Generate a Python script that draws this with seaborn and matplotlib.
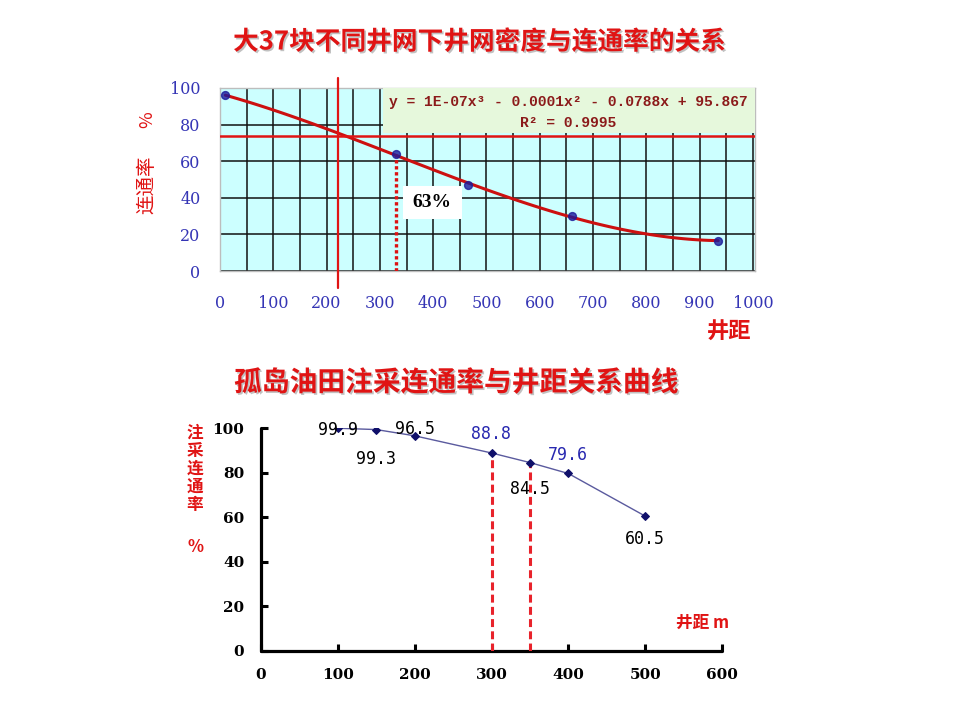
import numpy as np
import pandas as pd
import matplotlib
matplotlib.use('Agg')
import matplotlib.pyplot as plt
import matplotlib.patheffects as pe
from matplotlib.patches import Rectangle
from matplotlib.ticker import MultipleLocator
import seaborn as sns

sns.set_style('white')
plt.rcParams['font.family'] = ['Noto Sans CJK SC', 'DejaVu Sans']
plt.rcParams['axes.unicode_minus'] = False

# ---- upper chart: well spacing vs connectivity (block Da37)
top_x = [10, 330, 465, 660, 935]
top_y = [96, 64, 47, 30, 16.5]
cross_x = 222
cross_y = 74
eq_text = 'y = 1E-07x³ - 0.0001x² - 0.0788x + 95.867'
r2_text = 'R² = 0.9995'
mark_text = '63%'
title1 = '大37块不同井网下井网密度与连通率的关系'

# ---- lower chart: Gudao oilfield
spacing = [100, 150, 200, 300, 350, 400, 500]
rate = [99.9, 99.3, 96.5, 88.8, 84.5, 79.6, 60.5]
dash_at = [300, 350]
title2 = '孤岛油田注采连通率与井距关系曲线'

red = '#e01414'
shadow = [pe.SimplePatchShadow(offset=(1.2, -1.2), shadow_rgbFace='#999999', alpha=0.6), pe.Normal()]

fig = plt.figure(figsize=(9.6, 7.2), dpi=100)

# ================= upper chart
ax1 = fig.add_axes([220/960, 1-271/720, 535/960, 183/720])
ax1.set_facecolor('#ccffff')
sns.regplot(x=top_x, y=top_y, order=3, ci=None, ax=ax1,
            scatter_kws=dict(s=32, color='#1a1a9a', edgecolor='#1a1a9a', zorder=7),
            line_kws=dict(color='#cc1010', lw=2.2, zorder=5))
ax1.set_xlim(0, 1004)
ax1.set_ylim(0, 100)
ax1.xaxis.set_major_locator(MultipleLocator(100))
ax1.xaxis.set_minor_locator(MultipleLocator(50))
ax1.yaxis.set_major_locator(MultipleLocator(20))
ax1.set_axisbelow(True)
ax1.grid(True, which='both', axis='x', color='#111111', lw=1.1)
ax1.grid(True, which='major', axis='y', color='#111111', lw=1.1)
ax1.tick_params(which='both', length=0, labelcolor='#3535b5', labelsize=11.5)
ax1.tick_params(axis='x', pad=17)
ax1.tick_params(axis='y', pad=14)
for lab in ax1.get_xticklabels() + ax1.get_yticklabels():
    lab.set_fontfamily('DejaVu Serif')
for s in ax1.spines.values():
    s.set_color('#bdbdbd')
    s.set_linewidth(1)
ax1.set_xlabel('')
ax1.set_ylabel('')

# equation box
ax1.add_patch(Rectangle((306, 75.5), 698, 24.5, facecolor='#e6f8dc', edgecolor='none', zorder=3))
ax1.text(654, 92.5, eq_text, ha='center', va='center', family='Liberation Mono',
         weight='bold', size=10.5, color='#8b1a1a', zorder=4)
ax1.text(654, 81, r2_text, ha='center', va='center', family='Liberation Mono',
         weight='bold', size=10.5, color='#8b1a1a', zorder=4)

# cross lines
ax1.axvline(cross_x, ymin=-0.093, ymax=1.055, color=red, lw=1.6, clip_on=False, zorder=6)
ax1.axhline(cross_y, color=red, lw=1.8, zorder=6)

# dotted drop line and 63% label
ax1.vlines(top_x[1], 0, top_y[1], colors='#dd1111', linestyles=(0, (1, 0.8)), lw=2.4, zorder=6)
ax1.add_patch(Rectangle((344, 28.5), 110, 18, facecolor='white', edgecolor='none', zorder=6))
ax1.text(397, 37.3, mark_text, ha='center', va='center', family='Liberation Serif',
         weight='bold', size=14, color='black', zorder=7)

fig.text(147/960, 1-185/720, '连通率', rotation=90, color=red, size=14, ha='center', va='center')
fig.text(147/960, 1-120/720, '%', rotation=90, color=red, size=13, ha='center', va='center')
fig.text(729/960, 1-332/720, '井距', color=red, size=16, weight='bold', ha='center', va='center')
fig.text(480/960, 1-42/720, title1, color=red, size=18.5, weight='bold', ha='center', va='center',
         path_effects=shadow)

# ================= lower chart
ax2 = fig.add_axes([261/960, 1-651/720, 461/960, 223/720])
sns.lineplot(x=spacing, y=rate, ax=ax2, color='#5a5a9e', lw=1, marker='D', markersize=4.5,
             markerfacecolor='#10106a', markeredgecolor='#10106a', zorder=5)
ax2.set_xlim(0, 600)
ax2.set_ylim(0, 100)
ax2.xaxis.set_major_locator(MultipleLocator(100))
ax2.yaxis.set_major_locator(MultipleLocator(20))
sns.despine(ax=ax2)
for side in ['left', 'bottom']:
    ax2.spines[side].set_linewidth(2.3)
    ax2.spines[side].set_color('black')
    ax2.spines[side].set_capstyle('round')
ax2.tick_params(bottom=True, left=True, direction='in', length=5, width=2.2,
                labelsize=11, pad=12, colors='black')
for lab in ax2.get_xticklabels() + ax2.get_yticklabels():
    lab.set_fontfamily('DejaVu Serif')
    lab.set_fontweight('bold')
ax2.set_xlabel('')
ax2.set_ylabel('')

dash_y = [rate[spacing.index(v)] for v in dash_at]
ax2.vlines(dash_at, 0, dash_y, colors='#e8232b', linestyles=(0, (2.6, 1.4)), lw=2.2, zorder=4)

label_dy = [-1.4, -21, 4.7, 13.7, -19, 13.3, -16.6]
label_col = ['black', 'black', 'black', '#2828b0', 'black', '#2828b0', 'black']
for x, y, dy, c in zip(spacing, rate, label_dy, label_col):
    ax2.annotate(f'{y}', (x, y), xytext=(0, dy), textcoords='offset points', ha='center',
                 va='center', family='DejaVu Sans Mono', size=12, color=c, zorder=6)

fig.text(195/960, 1-469/720, '注\n采\n连\n通\n率', color=red, size=12, weight='bold',
         ha='center', va='center', linespacing=1.0)
fig.text(195/960, 1-547/720, '%', color=red, size=12, weight='bold', ha='center', va='center')
fig.text(703/960, 1-623/720, '井距 m', color=red, size=12, weight='bold', ha='center', va='center')
fig.text(456/960, 1-383/720, title2, color=red, size=20, weight='bold', ha='center', va='center',
         path_effects=shadow)

fig.savefig('out.png', dpi=100, facecolor='white')
